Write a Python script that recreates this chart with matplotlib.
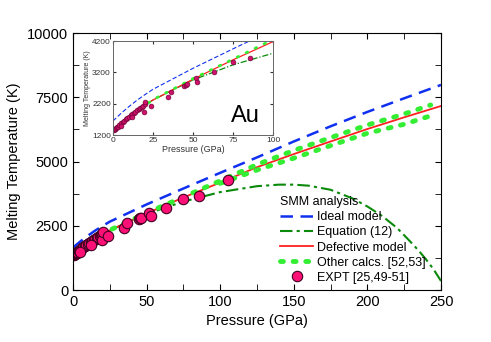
import matplotlib
matplotlib.use("Agg")
import matplotlib.pyplot as plt
from matplotlib.ticker import MultipleLocator

plt.rcParams['font.family'] = ['Liberation Sans', 'DejaVu Sans']

# pressures (GPa) and melting temperatures (K)
p_ideal = [0, 5, 10, 15, 20, 25, 50, 75, 100, 125, 150, 175, 200, 225, 250]
t_ideal = [1650, 1890, 2110, 2310, 2490, 2660, 3330, 3950, 4560, 5160, 5780, 6370, 6930, 7460, 7980]

p_eq12 = [0, 5, 10, 15, 20, 25, 50, 75, 100, 125, 140, 150, 160, 175, 190, 200, 210, 220,
          225, 230, 235, 240, 245, 250]
t_eq12 = [1337, 1600, 1800, 1990, 2160, 2318, 2960, 3440, 3810, 4040, 4100, 4100, 4060, 3900,
          3560, 3250, 2880, 2420, 2130, 1830, 1520, 1180, 800, 350]

p_defect = [0, 5, 10, 15, 20, 25, 50, 75, 100, 125, 150, 175, 200, 225, 250]
t_defect = [1337, 1600, 1800, 1990, 2160, 2318, 2980, 3600, 4180, 4780, 5290, 5780, 6265, 6720, 7160]

p_other_hi = [12, 25, 50, 75, 100, 125, 150, 175, 200, 225, 243]
t_other_hi = [1850, 2330, 3000, 3620, 4250, 4880, 5430, 5930, 6420, 6850, 7200]
p_other_lo = [100, 125, 150, 175, 200, 225, 243]
t_other_lo = [4150, 4670, 5130, 5620, 6100, 6450, 6780]

p_expt = [0.5, 1, 1.5, 2, 2.5, 3, 4, 5, 6, 7, 8, 9, 10, 11, 12, 13, 14, 15, 16, 17, 18, 19, 20,
          4.8, 12, 19.7, 20.2, 23.6, 34.6, 36.5, 44.5, 45.5, 46, 51.6, 52.8, 63.2, 75, 85.8, 105.5]
t_expt = [1360, 1390, 1410, 1430, 1450, 1470, 1520, 1570, 1620, 1660, 1700, 1745, 1790, 1830, 1870,
          1910, 1950, 1990, 2030, 2070, 2100, 2140, 2180,
          1490, 1765, 1945, 2245, 2115, 2400, 2590, 2770, 2790, 2820, 3010, 2890, 3200, 3540, 3670, 4280]

c_blue = '#1030f0'
c_dgreen = '#0a8a0a'
c_red = '#ff2020'
c_lime = '#33ee33'
c_pink = '#ff1077'

fig = plt.figure(figsize=(4.91, 3.42), dpi=100)
ax = fig.add_axes([0.1487, 0.152, 0.7495, 0.7515])

ax.plot(p_ideal, t_ideal, color=c_blue, lw=1.8, ls=(0, (5, 3)), label='Ideal model')
ax.plot(p_eq12, t_eq12, color=c_dgreen, lw=1.5, ls=(0, (6, 2, 1.5, 2)), label='Equation (12)')
ax.plot(p_defect, t_defect, color=c_red, lw=1.3, label='Defective model')
ax.plot(p_other_hi, t_other_hi, color=c_lime, lw=3.5, ls=(0, (0.6, 2.0)),
        dash_capstyle='round', label='Other calcs. [52,53]')
ax.plot(p_other_lo, t_other_lo, color=c_lime, lw=3.5, ls=(0, (0.6, 2.0)),
        dash_capstyle='round')
ax.plot(p_expt, t_expt, 'o', color=c_pink, mec='#400020', mew=0.8, ms=7.5,
        label='EXPT [25,49-51]')

ax.set_xlim(0, 250)
ax.set_ylim(0, 10000)
ax.xaxis.set_major_locator(MultipleLocator(50))
ax.xaxis.set_minor_locator(MultipleLocator(25))
ax.yaxis.set_major_locator(MultipleLocator(2500))
ax.yaxis.set_minor_locator(MultipleLocator(1250))
ax.tick_params(which='both', direction='in', top=True, right=True, labelsize=10.5)
ax.tick_params(which='major', length=4)
ax.tick_params(which='minor', length=4)
ax.set_xlabel('Pressure (GPa)', fontsize=10.5)
ax.set_ylabel('Melting Temperature (K)', fontsize=10.5)

leg = ax.legend(loc='lower left', bbox_to_anchor=(0.54, -0.01), frameon=False,
                title='SMM analysis', fontsize=9, title_fontsize=9,
                handlelength=2.6, handletextpad=0.3, labelspacing=0.25, borderpad=0.2)
leg._legend_box.align = 'left'

# inset
ins = fig.add_axes([0.230, 0.605, 0.326, 0.275])
ins.plot(p_ideal, t_ideal, color=c_blue, lw=0.8, ls=(0, (4, 2)))
ins.plot(p_eq12, t_eq12, color=c_dgreen, lw=0.9, ls=(0, (5, 1.5, 1, 1.5)))
ins.plot(p_defect, t_defect, color=c_red, lw=0.9)
ins.plot(p_other_hi, t_other_hi, color=c_lime, lw=2, ls=(0, (0.6, 3)), dash_capstyle='round')
ins.plot(p_expt, t_expt, 'o', color='#d0106a', mec='#600030', mew=0.4, ms=3.5)
ins.set_xlim(0, 100)
ins.set_ylim(1200, 4200)
ins.set_xticks([0, 25, 50, 75, 100])
ins.set_yticks([1200, 2200, 3200, 4200])
ins.tick_params(direction='in', top=True, right=True, labelsize=6, length=2.5, pad=1.5,
                colors='#333333')
for s in ins.spines.values():
    s.set_color('#666666')
    s.set_linewidth(0.7)
ins.set_xlabel('Pressure (GPa)', fontsize=6.5, labelpad=0.5, color='#333333')
ins.set_ylabel('Melting Temperature (K)', fontsize=5, labelpad=1, color='#333333')
ins.text(0.74, 0.14, 'Au', transform=ins.transAxes, fontsize=17)

fig.savefig('out.png', dpi=100)
